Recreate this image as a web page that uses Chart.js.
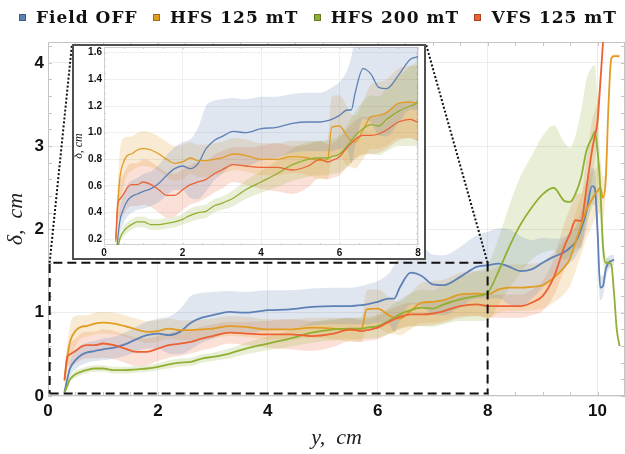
<!DOCTYPE html>
<html>
<head>
<meta charset="utf-8">
<title>Boundary layer thickness</title>
<script src="https://cdn.jsdelivr.net/npm/chart.js@4.4.1/dist/chart.umd.min.js"></script>
<style>
  body { margin: 0; background: #fff; }
  #wrap { position: relative; width: 625px; height: 454px; overflow: hidden; }
  #mainChart { position: absolute; left: 0; top: 0; }
  #insetBox { position: absolute; left: 72px; top: 44px; width: 350px; height: 212px; border: 2px solid #4f4f4f; background: #fff; }
  #insetChart { display: block; }
  #legend { position: absolute; left: 19px; width: 598px; top: 7px; display: flex; justify-content: space-between;
            font: bold 17px "DejaVu Serif", serif; letter-spacing: 1px; color: #111; line-height: 20px; }
  .item { display: flex; align-items: center; white-space: nowrap; }
  .swatch { width: 5px; height: 5px; margin-right: 10px; border: 1px solid rgba(0, 0, 0, 0.3); }
</style>
</head>
<body>
<div id="wrap">
  <canvas id="mainChart" width="625" height="454"></canvas>
  <div id="legend"></div>
  <div id="insetBox"><canvas id="insetChart" width="350" height="212"></canvas></div>
</div>
<script>
// positions along the channel (y, cm), shared by all series
const yPos = [0.3, 0.35, 0.4, 0.5, 0.6, 0.7, 0.85, 1.0, 1.2, 1.4,
  1.6, 1.8, 2.0, 2.2, 2.4, 2.6, 2.8, 3.0, 3.3, 3.6,
  4.0, 4.4, 4.8, 5.2, 5.5, 5.7, 5.8, 6.0, 6.2, 6.3,
  6.4, 6.6, 6.8, 7.0, 7.2, 7.5, 7.8, 8.0, 8.2, 8.4,
  8.6, 8.8, 9.0, 9.2, 9.4, 9.5, 9.6, 9.7, 9.8, 9.9,
  9.95, 10.0, 10.05, 10.1, 10.15, 10.2, 10.25, 10.3, 10.35, 10.4];

// mean thickness delta (cm) and half width of the shaded band
const deltaOff = [0.05, 0.2, 0.33, 0.43, 0.49, 0.52, 0.54, 0.56, 0.58, 0.62,
  0.68, 0.73, 0.75, 0.73, 0.77, 0.88, 0.94, 0.97, 1.01, 1.0,
  1.03, 1.04, 1.07, 1.08, 1.08, 1.09, 1.1, 1.13, 1.17, 1.17,
  1.3, 1.48, 1.44, 1.34, 1.33, 1.43, 1.55, 1.57, 1.59, 1.55,
  1.5, 1.52, 1.6, 1.67, 1.73, 1.78, 1.85, 2.0, 2.22, 2.52,
  2.5, 1.99, 1.3, 1.32, 1.52, 1.6, 1.62, 1.64, null, null];
const spreadOff = [0.03, 0.08, 0.1, 0.11, 0.12, 0.12, 0.12, 0.13, 0.13, 0.14,
  0.15, 0.16, 0.18, 0.22, 0.27, 0.32, 0.3, 0.28, 0.25, 0.25,
  0.24, 0.23, 0.22, 0.22, 0.22, 0.23, 0.24, 0.25, 0.3, 0.4,
  0.4, 0.38, 0.36, 0.36, 0.36, 0.36, 0.38, 0.4, 0.42, 0.45,
  0.42, 0.35, 0.3, 0.22, 0.18, 0.18, 0.18, 0.2, 0.22, 0.22,
  0.22, 0.2, 0.15, 0.12, 0.1, 0.08, 0.07, 0.06, null, null];

const deltaHfs125 = [0.18, 0.45, 0.65, 0.78, 0.83, 0.84, 0.87, 0.88, 0.87, 0.84,
  0.8, 0.77, 0.78, 0.81, 0.79, 0.79, 0.8, 0.81, 0.84, 0.83,
  0.8, 0.8, 0.82, 0.81, 0.79, 0.8, 1.04, 1.05, 0.97, 0.94,
  0.93, 1.02, 1.12, 1.13, 1.15, 1.22, 1.23, 1.22, 1.28, 1.3,
  1.3, 1.31, 1.33, 1.42, 1.55, 1.65, 1.85, 2.05, 2.24, 2.36,
  2.42, 2.46, 2.5, 2.38, 2.6, 3.5, 4.05, 4.08, 4.08, 4.08];
const spreadHfs125 = [0.05, 0.15, 0.2, 0.18, 0.14, 0.13, 0.13, 0.13, 0.13, 0.13,
  0.13, 0.13, 0.13, 0.12, 0.12, 0.12, 0.12, 0.12, 0.12, 0.12,
  0.12, 0.12, 0.12, 0.13, 0.14, 0.15, 0.23, 0.23, 0.22, 0.2,
  0.2, 0.22, 0.24, 0.25, 0.25, 0.26, 0.27, 0.28, 0.28, 0.28,
  0.28, 0.28, 0.28, 0.3, 0.32, 0.33, 0.35, 0.35, 0.35, 0.32,
  0.3, 0.3, 0.3, 0.25, 0.1, 0.05, 0.03, 0.02, 0.02, 0.02];

const deltaHfs200 = [0.04, 0.12, 0.2, 0.26, 0.29, 0.31, 0.33, 0.33, 0.31, 0.31,
  0.32, 0.33, 0.35, 0.38, 0.4, 0.41, 0.45, 0.47, 0.51, 0.57,
  0.63, 0.69, 0.76, 0.8, 0.81, 0.81, 0.82, 0.84, 0.9, 0.94,
  0.98, 1.03, 1.06, 1.05, 1.1, 1.16, 1.2, 1.24, 1.5, 1.8,
  2.06, 2.26, 2.42, 2.5, 2.34, 2.33, 2.43, 2.62, 2.95, 3.1,
  3.17, 2.95, 2.5, 1.8, 1.6, 1.6, 1.58, 1.24, 0.8, 0.6];
const spreadHfs200 = [0.02, 0.03, 0.03, 0.04, 0.04, 0.04, 0.04, 0.04, 0.04, 0.04,
  0.04, 0.04, 0.04, 0.05, 0.05, 0.05, 0.05, 0.05, 0.06, 0.07,
  0.08, 0.1, 0.12, 0.13, 0.13, 0.13, 0.13, 0.14, 0.16, 0.17,
  0.18, 0.2, 0.22, 0.22, 0.24, 0.26, 0.3, 0.33, 0.4, 0.5,
  0.58, 0.62, 0.7, 0.75, 0.7, 0.65, 0.7, 0.8, 0.85, 0.85,
  0.8, 0.6, 0.4, 0.2, 0.08, 0.05, 0.04, 0.03, 0.02, 0.02];

const deltaVfs125 = [0.2, 0.47, 0.5, 0.54, 0.59, 0.61, 0.61, 0.63, 0.61, 0.57,
  0.53, 0.53, 0.57, 0.61, 0.63, 0.65, 0.69, 0.72, 0.76, 0.75,
  0.74, 0.74, 0.72, 0.75, 0.8, 0.78, 0.79, 0.82, 0.89, 0.92,
  0.95, 0.98, 0.98, 0.99, 1.02, 1.08, 1.1, 1.08, 1.08, 1.08,
  1.08, 1.12, 1.2, 1.42, 1.8, 1.95, 2.11, 2.1, 2.5, 2.95,
  3.12, 3.3, 3.75, 4.25, null, null, null, null, null, null];
const spreadVfs125 = [0.05, 0.12, 0.14, 0.15, 0.16, 0.16, 0.16, 0.17, 0.17, 0.17,
  0.17, 0.16, 0.15, 0.15, 0.15, 0.14, 0.14, 0.14, 0.13, 0.14,
  0.16, 0.18, 0.18, 0.16, 0.14, 0.13, 0.13, 0.14, 0.14, 0.14,
  0.14, 0.14, 0.14, 0.14, 0.14, 0.14, 0.14, 0.14, 0.14, 0.14,
  0.14, 0.15, 0.18, 0.22, 0.28, 0.3, 0.32, 0.33, 0.35, 0.35,
  0.3, 0.25, 0.15, 0.05, null, null, null, null, null, null];

const seriesNames = ["Field OFF", "HFS 125 mT", "HFS 200 mT", "VFS 125 mT"];

// tick labels
const mainXTicks = [0, 2, 4, 6, 8, 10];
const mainYTicks = [0, 1, 2, 3, 4];
const insetXTicks = [0, 2, 4, 6, 8];
const insetYTicks = [0.2, 0.4, 0.6, 0.8, 1.0, 1.2, 1.4, 1.6];

// region magnified in the inset (dashed box), data units
const zoomX = [0.03, 8];
const zoomY = [0.03, 1.6];

// styles
const seriesColors = ["#5E81B5", "#E19C24", "#8FB032", "#EB6235"];
const seriesMeans = [deltaOff, deltaHfs125, deltaHfs200, deltaVfs125];
const seriesSpreads = [spreadOff, spreadHfs125, spreadHfs200, spreadVfs125];

Chart.defaults.font.family = "'Liberation Sans', Arial, sans-serif";
Chart.defaults.color = "#111";

function rgba(hex, a) {
  const n = parseInt(hex.slice(1), 16);
  return `rgba(${(n >> 16) & 255}, ${(n >> 8) & 255}, ${n & 255}, ${a})`;
}

function toPoints(values) {
  return yPos.map((x, i) => ({ x: x, y: values[i] }));
}

function shifted(mean, spread, sign) {
  return mean.map((m, i) => (m === null ? null : m + sign * spread[i]));
}

// bands (upper + lower filled to it) first, then the mean curves
function buildDatasets(lineWidth) {
  const sets = [];
  seriesMeans.forEach((mean, k) => {
    const band = {
      borderWidth: 0,
      borderColor: "rgba(0,0,0,0)",
      pointRadius: 0,
      cubicInterpolationMode: "monotone",
      order: 20 + k,
    };
    sets.push({ ...band, data: toPoints(shifted(mean, seriesSpreads[k], 1)), fill: false });
    sets.push({
      ...band,
      data: toPoints(shifted(mean, seriesSpreads[k], -1)),
      fill: "-1",
      backgroundColor: rgba(seriesColors[k], 0.2),
    });
  });
  seriesMeans.forEach((mean, k) => {
    sets.push({
      label: seriesNames[k],
      data: toPoints(mean),
      borderColor: seriesColors[k],
      borderWidth: lineWidth,
      pointRadius: 0,
      fill: false,
      cubicInterpolationMode: "monotone",
      order: 4 - k,
    });
  });
  return sets;
}

function fixedTicks(values) {
  return (scale) => {
    scale.ticks = values.map((v) => ({ value: v }));
  };
}

// frame around the plot with small inward ticks
const frameTicks = {
  id: "frameTicks",
  beforeDatasetsDraw(chart, args, opts) {
    if (!opts.color) return;
    const { ctx, chartArea: a, scales } = chart;
    const x = scales.x, y = scales.y;
    ctx.save();
    ctx.strokeStyle = opts.color;
    ctx.lineWidth = 1;
    ctx.strokeRect(a.left + 0.5, a.top + 0.5, a.right - a.left - 1, a.bottom - a.top - 1);
    ctx.beginPath();
    for (let v = x.min; v <= x.max + 1e-6; v += opts.xStep) {
      const px = Math.round(x.getPixelForValue(v)) + 0.5;
      ctx.moveTo(px, a.bottom);
      ctx.lineTo(px, a.bottom - opts.len);
      ctx.moveTo(px, a.top);
      ctx.lineTo(px, a.top + opts.len);
    }
    for (let v = 0; v <= y.max + 1e-6; v += opts.yStep) {
      const py = Math.round(y.getPixelForValue(v)) + 0.5;
      ctx.moveTo(a.left, py);
      ctx.lineTo(a.left + opts.len, py);
      ctx.moveTo(a.right, py);
      ctx.lineTo(a.right - opts.len, py);
    }
    ctx.stroke();
    ctx.restore();
  },
};

// dotted lines from the dashed box to the inset corners
const zoomConnectors = {
  id: "zoomConnectors",
  afterDatasetsDraw(chart) {
    const box = document.getElementById("insetBox");
    const { ctx, scales } = chart;
    const top = scales.y.getPixelForValue(zoomY[1]);
    ctx.save();
    ctx.setLineDash([2, 2]);
    ctx.lineWidth = 2;
    ctx.strokeStyle = "#111";
    ctx.beginPath();
    ctx.moveTo(scales.x.getPixelForValue(zoomX[0]), top);
    ctx.lineTo(box.offsetLeft, box.offsetTop);
    ctx.moveTo(scales.x.getPixelForValue(zoomX[1]), top);
    ctx.lineTo(box.offsetLeft + box.offsetWidth, box.offsetTop);
    ctx.stroke();
    ctx.restore();
  },
};

function initMainChart() {
  const datasets = buildDatasets(1.8);
  datasets.push({
    data: [
      { x: zoomX[0], y: zoomY[0] },
      { x: zoomX[1], y: zoomY[0] },
      { x: zoomX[1], y: zoomY[1] },
      { x: zoomX[0], y: zoomY[1] },
      { x: zoomX[0], y: zoomY[0] },
    ],
    borderColor: "#111",
    borderWidth: 2,
    borderDash: [9, 5],
    pointRadius: 0,
    fill: false,
    order: 0,
  });

  new Chart(document.getElementById("mainChart"), {
    type: "line",
    data: { datasets: datasets },
    plugins: [frameTicks, zoomConnectors],
    options: {
      responsive: false,
      animation: false,
      layout: { padding: { top: 42, right: 0, left: 0, bottom: 0 } },
      plugins: {
        legend: { display: false },
        tooltip: { enabled: false },
        frameTicks: { color: "#c4c4c4", xStep: 0.5, yStep: 0.2, len: 4 },
      },
      scales: {
        x: {
          type: "linear",
          min: 0,
          max: 10.5,
          afterBuildTicks: fixedTicks(mainXTicks),
          afterFit: (s) => { s.height = 58; },
          grid: { color: "#ececec", drawTicks: false },
          border: { display: false },
          ticks: { padding: 5, maxRotation: 0, font: { size: 17, weight: "bold" } },
          title: {
            display: true,
            text: "y,  cm",
            color: "#222",
            font: { family: "'Liberation Serif', serif", style: "italic", size: 22 },
            padding: { top: 0, bottom: 3 },
          },
        },
        y: {
          type: "linear",
          min: 0,
          max: 4.25,
          afterBuildTicks: fixedTicks(mainYTicks),
          afterFit: (s) => { s.width = 48; },
          grid: { color: "#ececec", drawTicks: false },
          border: { display: false },
          ticks: { padding: 4, font: { size: 17, weight: "bold" } },
          title: {
            display: true,
            text: "δ,  cm",
            color: "#222",
            font: { family: "'Liberation Serif', serif", style: "italic", size: 22 },
            padding: { top: 3, bottom: 0 },
          },
        },
      },
    },
  });
}

function initInsetChart() {
  new Chart(document.getElementById("insetChart"), {
    type: "line",
    data: { datasets: buildDatasets(1.3) },
    plugins: [frameTicks],
    options: {
      responsive: false,
      animation: false,
      layout: { padding: { top: 1, right: 6, left: 0, bottom: 0 } },
      plugins: {
        legend: { display: false },
        tooltip: { enabled: false },
        frameTicks: { color: "#d0d0d0", xStep: 0.5, yStep: 0.05, len: 2 },
      },
      scales: {
        x: {
          type: "linear",
          min: 0,
          max: 8,
          afterBuildTicks: fixedTicks(insetXTicks),
          afterFit: (s) => { s.height = 13; s.paddingLeft = 0; s.paddingRight = 0; },
          grid: { color: "#efefef", drawTicks: false },
          border: { display: false },
          ticks: { padding: 2, maxRotation: 0, font: { size: 10, weight: "bold" } },
        },
        y: {
          type: "linear",
          min: 0.157,
          max: 1.643,
          afterBuildTicks: fixedTicks(insetYTicks),
          afterFit: (s) => { s.width = 30; s.paddingTop = 0; s.paddingBottom = 0; },
          grid: { color: "#efefef", drawTicks: false },
          border: { display: false },
          ticks: {
            padding: 2,
            font: { size: 10, weight: "bold" },
            callback: (v) => v.toFixed(1),
          },
          title: {
            display: true,
            text: "δ, cm",
            color: "#222",
            font: { family: "'Liberation Serif', serif", style: "italic", size: 12, lineHeight: 1 },
            padding: { top: -1, bottom: 0 },
          },
        },
      },
    },
  });
}

// legend above the plot
function initLegend() {
  const legend = document.getElementById("legend");
  seriesNames.forEach((name, k) => {
    const item = document.createElement("div");
    item.className = "item";
    const swatch = document.createElement("span");
    swatch.className = "swatch";
    swatch.style.background = seriesColors[k];
    item.appendChild(swatch);
    item.appendChild(document.createTextNode(name));
    legend.appendChild(item);
  });
}

initLegend();
initMainChart();
initInsetChart();
</script>
</body>
</html>
